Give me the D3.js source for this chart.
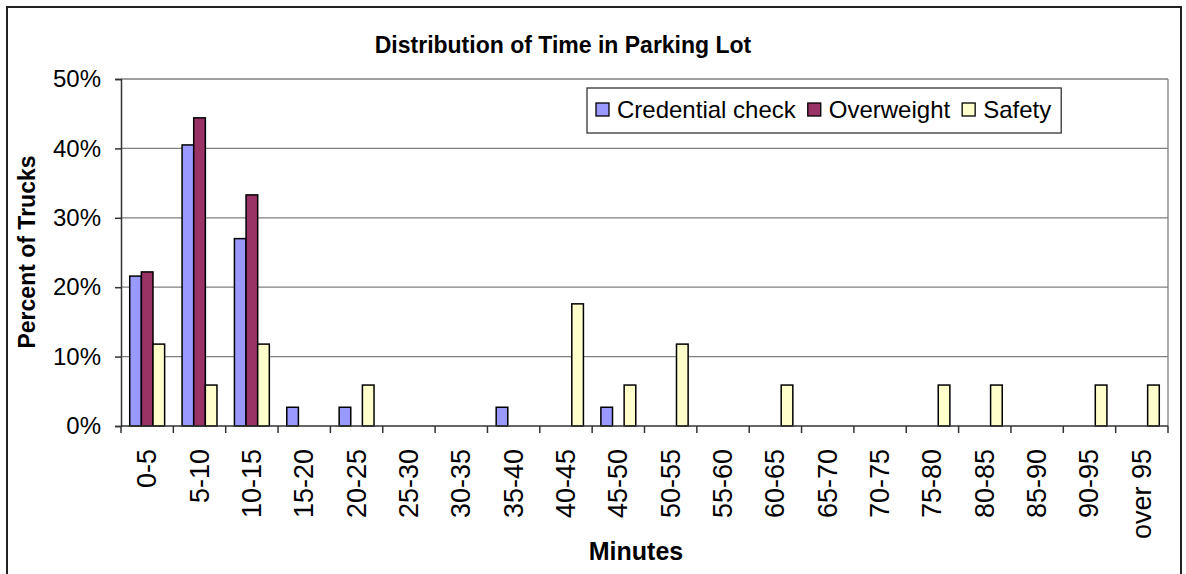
<!DOCTYPE html>
<html>
<head>
<meta charset="utf-8">
<script src="https://cdn.jsdelivr.net/npm/d3@7"></script>
<style>
  body { margin: 0; background: #fff; }
  svg { display: block; font-family: "Liberation Sans", Arial, sans-serif; }
</style>
</head>
<body>
<svg id="chart" width="1186" height="574"></svg>
<script>
// bins of minutes in the parking lot
var categories = ["0-5", "5-10", "10-15", "15-20", "20-25", "25-30", "30-35", "35-40", "40-45", "45-50",
  "50-55", "55-60", "60-65", "65-70", "70-75", "75-80", "80-85", "85-90", "90-95", "over 95"];
var seriesNames = ["Credential check", "Overweight", "Safety"];
var credential = [21.6, 40.5, 27.0, 2.7, 2.7, 0, 0, 2.7, 0, 2.7, 0, 0, 0, 0, 0, 0, 0, 0, 0, 0];
var overweight = [22.2, 44.4, 33.3, 0, 0, 0, 0, 0, 0, 0, 0, 0, 0, 0, 0, 0, 0, 0, 0, 0];
var safety = [11.8, 5.9, 11.8, 0, 5.9, 0, 0, 0, 17.6, 5.9, 11.8, 0, 5.9, 0, 0, 5.9, 5.9, 0, 5.9, 5.9];
var yTicks = [0, 10, 20, 30, 40, 50];
var colors = ["#9999ff", "#993366", "#ffffcc"];

var svg = d3.select("#chart");
var margin = {left: 121, right: 1168, top: 79, bottom: 426};

// outer chart frame
svg.append("rect")
  .attr("x", 7).attr("y", 7)
  .attr("width", 1174).attr("height", 600)
  .attr("fill", "#fff").attr("stroke", "#222").attr("stroke-width", 2);

var x = d3.scaleBand().domain(categories).range([margin.left, margin.right]);
var bw = x.bandwidth() / 4.5;   // excel gap width 150%
var y = d3.scaleLinear().domain([0, 50]).range([margin.bottom, margin.top]);

// gridlines
svg.append("g").selectAll("line")
  .data(yTicks.slice(1))
  .enter().append("line")
  .attr("x1", margin.left).attr("x2", margin.right)
  .attr("y1", d => y(d)).attr("y2", d => y(d))
  .attr("stroke", "#808080").attr("stroke-width", 1.3);

// plot area right border
svg.append("line")
  .attr("x1", margin.right).attr("x2", margin.right)
  .attr("y1", margin.top).attr("y2", margin.bottom)
  .attr("stroke", "#808080").attr("stroke-width", 1.3);

// bars
var seriesData = [credential, overweight, safety];
seriesData.forEach(function(vals, s) {
  svg.append("g").selectAll("rect")
    .data(vals.map((v, i) => ({cat: categories[i], v: v})).filter(d => d.v > 0))
    .enter().append("rect")
    .attr("x", d => x(d.cat) + bw * 0.75 + s * bw)
    .attr("y", d => y(d.v))
    .attr("width", bw)
    .attr("height", d => y(0) - y(d.v))
    .attr("fill", colors[s])
    .attr("stroke", "#000").attr("stroke-width", 1.5);
});

// y axis
var yAxis = svg.append("g")
  .attr("transform", "translate(" + margin.left + ",0)")
  .call(d3.axisLeft(y).tickValues(yTicks).tickSize(6).tickPadding(14).tickFormat(d => d + "%"));
yAxis.selectAll("text").attr("font-size", 24).attr("fill", "#000").attr("font-family", "Liberation Sans, Arial");
yAxis.selectAll("line, path").attr("stroke", "#333").attr("stroke-width", 1.5);

// x axis: ticks at category boundaries
var xg = svg.append("g");
xg.append("line")
  .attr("x1", margin.left).attr("x2", margin.right)
  .attr("y1", y(0)).attr("y2", y(0))
  .attr("stroke", "#333").attr("stroke-width", 1.5);
xg.selectAll(".tk")
  .data(categories.concat(["end"]))
  .enter().append("line")
  .attr("x1", (d, i) => margin.left + i * x.step())
  .attr("x2", (d, i) => margin.left + i * x.step())
  .attr("y1", y(0)).attr("y2", y(0) + 7)
  .attr("stroke", "#333").attr("stroke-width", 1.5);
xg.selectAll("text")
  .data(categories)
  .enter().append("text")
  .attr("transform", d => "translate(" + (x(d) + x.bandwidth() / 2 + 9) + ",449) rotate(-90)")
  .attr("text-anchor", "end")
  .attr("font-size", 27)
  .text(d => d);

// titles
svg.append("text")
  .attr("x", 563).attr("y", 53)
  .attr("text-anchor", "middle")
  .attr("font-size", 23).attr("font-weight", "bold")
  .text("Distribution of Time in Parking Lot");

svg.append("text")
  .attr("x", 636).attr("y", 560)
  .attr("text-anchor", "middle")
  .attr("font-size", 25).attr("font-weight", "bold")
  .text("Minutes");

svg.append("text")
  .attr("transform", "translate(35,252) rotate(-90)")
  .attr("text-anchor", "middle")
  .attr("font-size", 23).attr("font-weight", "bold")
  .text("Percent of Trucks");

// legend
var legend = svg.append("g");
var legendBox = legend.append("rect")
  .attr("x", 587).attr("y", 88)
  .attr("height", 45)
  .attr("fill", "#fff").attr("stroke", "#333").attr("stroke-width", 1.3);
var lx = 596;
seriesNames.forEach(function(name, i) {
  legend.append("rect")
    .attr("x", lx).attr("y", 103)
    .attr("width", 13).attr("height", 13)
    .attr("fill", colors[i]).attr("stroke", "#000").attr("stroke-width", 1.3);
  var t = legend.append("text")
    .attr("x", lx + 21).attr("y", 118)
    .attr("font-size", 24)
    .text(name);
  lx = lx + 21 + t.node().getComputedTextLength() + 12;
});
legendBox.attr("width", lx - 2 - 587);
</script>
</body>
</html>
